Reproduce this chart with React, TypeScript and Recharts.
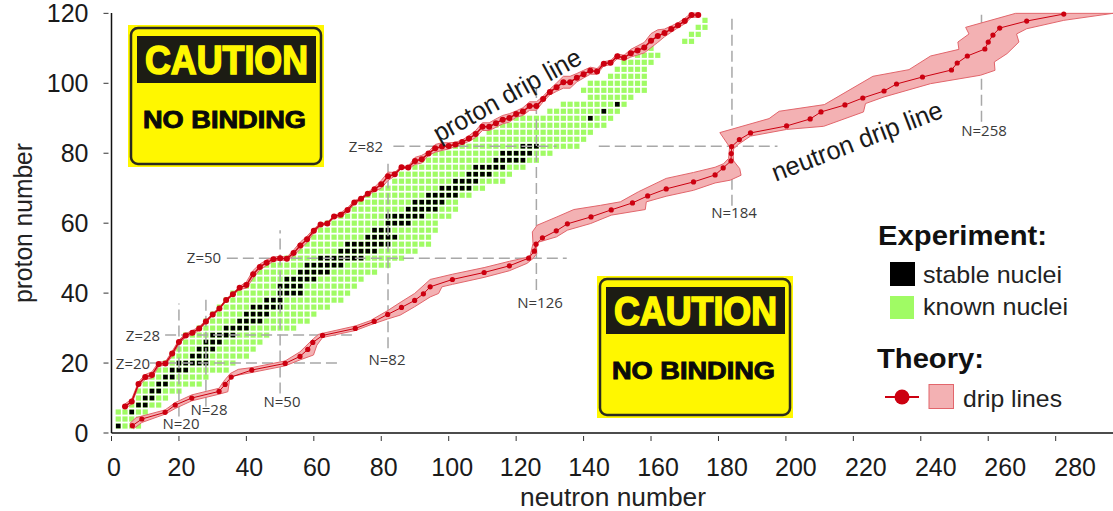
import { ComposedChart, Line, Scatter, XAxis, YAxis, ReferenceLine } from 'recharts';

const FONT = '"Liberation Sans", Arial, sans-serif';
const LABEL_FONT = '"Open Sans", sans-serif';

// x ticks and the small nudge the hand-placed labels have in the original
const xTicks = [0, 20, 40, 60, 80, 100, 120, 140, 160, 180, 200, 220, 240, 260, 280];
const xLabelNudge = [2.5, 2.5, 3, 3, 2.5, 3.5, 4.5, 5.5, 7, 8.5, 10, 12.5, 15, 17, 19.5];
const yTicks = [0, 20, 40, 60, 80, 100, 120];

// known nuclei: one row per even proton number
const knownZ = [2, 4, 6, 8, 10, 12, 14, 16, 18, 20, 22, 24, 26, 28, 30, 32, 34, 36, 38, 40, 42, 44, 46, 48, 50, 52, 54, 56, 58, 60, 62, 64, 66, 68, 70, 72, 74, 76, 78, 80, 82, 84, 86, 88, 90, 92, 94, 96, 98, 100, 102, 104, 106, 108, 110, 112, 114, 116, 118];
const knownNMin = [2, 2, 2, 6, 8, 8, 10, 12, 14, 16, 18, 20, 22, 22, 26, 28, 30, 32, 34, 36, 40, 42, 44, 46, 52, 56, 58, 60, 62, 64, 68, 72, 74, 76, 80, 84, 86, 90, 92, 96, 100, 108, 112, 114, 120, 130, 134, 142, 140, 142, 148, 150, 152, 156, 160, 170, 172, 174, 176];
const knownNMax = [8, 8, 10, 14, 16, 20, 26, 28, 34, 36, 40, 42, 44, 46, 54, 58, 60, 64, 68, 70, 72, 74, 78, 82, 86, 90, 94, 94, 96, 96, 100, 102, 102, 106, 110, 116, 118, 122, 126, 130, 138, 140, 142, 146, 148, 150, 152, 154, 158, 158, 158, 158, 160, 162, 160, 172, 174, 176, 176];

// stable nuclei
const stableZ = [2, 6, 8, 10, 12, 14, 16, 18, 20, 22, 24, 26, 28, 30, 32, 34, 36, 38, 40, 42, 44, 46, 48, 50, 52, 54, 56, 58, 60, 62, 64, 66, 68, 70, 72, 74, 76, 78, 80, 82, 90, 92, 94];
const stableNMin = [2, 6, 8, 10, 12, 14, 16, 18, 20, 24, 26, 28, 30, 34, 38, 40, 42, 46, 50, 50, 52, 56, 58, 62, 68, 70, 76, 78, 82, 82, 88, 90, 94, 98, 102, 106, 108, 114, 116, 122, 142, 146, 150];
const stableNMax = [2, 6, 10, 12, 14, 16, 18, 22, 28, 28, 30, 32, 36, 40, 44, 46, 50, 50, 56, 56, 60, 64, 68, 74, 78, 82, 84, 82, 88, 92, 96, 98, 102, 106, 108, 112, 116, 122, 124, 126, 142, 146, 150];

// proton drip line
const protonN = [4, 6, 8, 10, 12, 14, 16, 18, 20, 22, 24, 26, 28, 30, 32, 34, 36, 38, 40, 42, 44, 46, 48, 50, 52, 54, 56, 58, 60, 62, 64, 66, 68, 70, 72, 74, 76, 78, 80, 82, 84, 86, 88, 90, 92, 94, 96, 98, 100, 102, 104, 106, 108, 110, 112, 114, 116, 118, 120, 122, 124, 126, 128, 130, 132, 134, 136, 138, 140, 142, 144, 146, 148, 150, 152, 154, 156, 158, 160, 162, 164, 166, 168, 170, 172, 174];
const protonZ = [7.6, 9, 14, 16, 16.6, 19.7, 19.9, 22.7, 26, 27.9, 28.7, 29.9, 31.9, 33.9, 35.6, 38, 39.7, 41.5, 42.3, 45.4, 47.5, 48.7, 49.7, 50, 49.8, 51.5, 53.6, 55.4, 57.8, 59.6, 59.9, 61.9, 62.4, 63.8, 65.9, 67, 68.4, 69.7, 71.1, 73.4, 74, 76, 75.9, 77.8, 78.3, 79.9, 81.4, 81.9, 82.1, 82.5, 83.2, 84.2, 85.5, 87.6, 87.6, 88.6, 89.6, 90.1, 91.2, 91.9, 93.5, 93.5, 95.5, 97.5, 98.9, 100.3, 100.3, 101.6, 102.6, 103.6, 103.4, 105.6, 105.9, 107.7, 107.3, 108.6, 109.4, 110.2, 112.2, 113.5, 114.4, 115.5, 116.6, 117.8, 119.5, 119.5];
const protonSpread = [0.7, 0.7, 0.6, 0.7, 0.9, 0.6, 0.5, 0.7, 0.6, 0.5, 0.6, 0.5, 0.4, 0.3, 0.3, 0.3, 0.3, 0.4, 0.9, 1.1, 0.8, 0.8, 0.6, 0.5, 0.5, 0.8, 1, 0.9, 0.6, 0.3, 0.3, 0.3, 0.6, 0.6, 0.5, 0.3, 0.4, 0.6, 1.1, 1.2, 0.5, 0.3, 0.4, 1, 1.1, 0.5, 1.1, 1.1, 0.9, 0.6, 0.6, 0.8, 1, 1.1, 1.1, 1.2, 1.2, 1.2, 0.9, 1.1, 1.2, 1.2, 0.8, 0.8, 1.2, 1.7, 1.7, 1.2, 1.1, 1, 0.8, 0.6, 0.6, 0.7, 0.7, 1.1, 1.3, 1.5, 2, 1.8, 1.1, 0.9, 0.7, 0.8, 0.6, 0.6];

// neutron drip line
const neutronN = [6.2, 9, 15.9, 18.9, 23.8, 31.9, 33.7, 35.5, 41.6, 51.5, 55.9, 58.2, 59.7, 62.6, 72.3, 77.9, 81.9, 86, 89.9, 92.5, 94.5, 101.1, 110.5, 118, 123.7, 125.4, 125.9, 127.8, 131.9, 135.2, 142.2, 148.2, 154.5, 159, 164.5, 172.6, 179, 181.4, 183.7, 183.8, 183.9, 186.2, 189.5, 200.2, 207.2, 210.4, 217.5, 222.8, 229.1, 232.8, 240.5, 249.1, 250.8, 253.8, 259, 260, 261.4, 263.4, 271.4, 282.4];
const neutronZ = [2.1, 4, 5.9, 8, 10, 11.9, 13.9, 16, 18, 19.9, 21.9, 23.9, 25.9, 27.9, 29.9, 31.9, 33.9, 35.9, 37.9, 39.8, 41.8, 43.9, 45.9, 47.8, 50, 52, 54, 55.8, 57.8, 59.8, 61.8, 63.8, 65.8, 67.8, 69.8, 71.8, 73.8, 75.8, 77.8, 79.9, 81.9, 83.9, 85.8, 87.8, 89.8, 91.8, 93.8, 95.8, 97.8, 99.8, 101.8, 103.8, 105.8, 107.8, 109.8, 111.8, 113.8, 115.8, 117.8, 119.8];

// outline of the neutron band, upper edge then lower edge
const neutronUpperN = [5.5, 7.3, 15.9, 18.9, 23.8, 31.9, 33.2, 35.2, 37.6, 41.6, 51.5, 55.9, 59.9, 61.4, 62.6, 72.3, 76.7, 81.9, 85.9, 89.9, 94.5, 101.1, 110.5, 118, 123.2, 124.2, 125, 124.8, 126.2, 132.1, 137.1, 145, 150.9, 156.3, 164.5, 172.6, 179, 181.5, 183, 183.3, 180.4, 195, 198, 211.4, 225.8, 236.5, 242.9, 251.3, 251, 254.3, 253.3, 268.1, 297];
const neutronUpperZ = [2.8, 4.4, 6.6, 8.7, 10.9, 12.8, 14.7, 17, 18.2, 18.7, 20.6, 23.2, 27, 28.2, 28.5, 30.6, 32.1, 35, 37.5, 39.9, 43.9, 45.4, 47.3, 49.1, 50.2, 50.9, 54.2, 57.5, 59.4, 61.8, 63.9, 65.1, 66.1, 69, 72.8, 74.5, 76, 77, 78.5, 81.8, 85.9, 89.9, 92, 93.9, 102, 103.9, 107.8, 109.7, 111.8, 114.1, 116, 120, 120];
const neutronLowerN = [6.5, 9, 15.9, 18.9, 23.8, 31.9, 34.5, 35, 36.2, 41.6, 51.5, 55.9, 59.9, 60.9, 62.6, 72.3, 76.7, 81.9, 85.6, 89.9, 94.5, 97, 98, 101.1, 110.5, 118, 123.2, 125, 126.1, 126, 126.4, 132, 135.2, 142.1, 148.2, 158.3, 158.6, 164.5, 172.6, 179, 183.5, 186.7, 186.3, 184.5, 184.3, 184.5, 186, 189.5, 200.2, 211.2, 223, 223.6, 229.1, 242.9, 257.7, 262, 261.8, 265.6, 269.1, 268.4, 271.4, 282.4, 297];
const neutronLowerZ = [1.2, 3, 5.4, 7, 9.2, 11.1, 11.8, 15.1, 16.3, 17.3, 19.2, 20.9, 22.3, 25.1, 27.3, 29.3, 30.9, 32.6, 33.7, 36.1, 38.9, 39.9, 41.8, 42.5, 44.5, 46.4, 48.5, 49.9, 51.3, 53.7, 54.5, 56.1, 58, 59.9, 62.3, 63.9, 66.1, 67.7, 69.4, 71.5, 72.3, 73.7, 75.6, 77.8, 79.9, 81.3, 82.6, 84.9, 86.8, 87.7, 91.8, 94.2, 96.1, 99.9, 102.3, 103.7, 106.1, 108.5, 111.8, 114.1, 115.6, 118, 120];

// dashed magic number guides: [n1, z1, n2, z2]
const guides = [
  [11.4, 20, 67.3, 20],
  [15.9, 28, 71.3, 28],
  [34.2, 50, 135, 50],
  [83.6, 82, 132, 82],
  [144.5, 82, 197.5, 82],
  [20, 4.7, 20, 37],
  [28, 7.5, 28, 38.2],
  [50, 11.3, 50, 58],
  [82, 24.2, 82, 77],
  [126, 40.9, 126, 99],
  [184, 65, 184, 119],
  [258, 89, 258, 120],
];

const magicLabels = [
  { text: 'Z=82', x: 366, y: 146 },
  { text: 'Z=50', x: 204, y: 257 },
  { text: 'Z=28', x: 143, y: 335 },
  { text: 'Z=20', x: 133, y: 363 },
  { text: 'N=20', x: 181, y: 423 },
  { text: 'N=28', x: 209, y: 409 },
  { text: 'N=50', x: 282, y: 401 },
  { text: 'N=82', x: 387, y: 359 },
  { text: 'N=126', x: 540, y: 302 },
  { text: 'N=184', x: 734, y: 212 },
  { text: 'N=258', x: 984, y: 130 },
];

const knownCells = knownZ.flatMap((z, i) => {
  const row = [];
  for (let n = knownNMin[i]; n <= knownNMax[i]; n += 2) row.push({ n, z });
  return row;
});
const stableCells = stableZ.flatMap((z, i) => {
  const row = [];
  for (let n = stableNMin[i]; n <= stableNMax[i]; n += 2) row.push({ n, z });
  return row;
});

const protonLine = protonN.map((n, i) => ({ n, z: protonZ[i] }));
const neutronLine = neutronN.map((n, i) => ({ n, z: neutronZ[i] }));
const protonBand = [
  ...protonN.map((n, i) => ({ n, z: protonZ[i] + protonSpread[i] })),
  ...protonN.map((n, i) => ({ n, z: protonZ[i] - protonSpread[i] })).reverse(),
];
const neutronBand = [
  ...neutronUpperN.map((n, i) => ({ n, z: neutronUpperZ[i] })),
  ...neutronLowerN.map((n, i) => ({ n, z: neutronLowerZ[i] })).reverse(),
];

const RED = '#cc0010';
const BAND_FILL = '#f3b1b3';
const BAND_STROKE = '#e2666c';
const GREEN = '#a0fb64';

const square = (fill: string, size: number) => (p: any) => (
  <rect x={p.cx - size / 2} y={p.cy - size / 2} width={size} height={size} fill={fill} />
);

const noPoint = () => <g />;

const bandPolygon = (p: any) => (
  <polygon
    points={p.points.map((q: any) => `${q.x},${q.y}`).join(' ')}
    fill={BAND_FILL}
    stroke={BAND_STROKE}
    strokeWidth={1}
  />
);

const BottomTick = ({ x, y, payload, index }: any) => (
  <g>
    <line x1={x} x2={x} y1={y} y2={y - 5} stroke="#333" strokeWidth={1} />
    <text x={x + xLabelNudge[index]} y={y + 26} textAnchor="middle" dominantBaseline="central" fontSize={25} fontFamily={FONT} fill="#1a1a1a">
      {payload.value}
    </text>
  </g>
);

const TopTick = ({ x, y }: any) => <line x1={x} x2={x} y1={y} y2={y + 5} stroke="#333" strokeWidth={1} />;

const LeftTick = ({ x, y, payload }: any) => (
  <g>
    <line x1={x} x2={x + 5} y1={y} y2={y} stroke="#333" strokeWidth={1} />
    <text x={x - 15} y={y} textAnchor="end" dominantBaseline="central" fontSize={25} fontFamily={FONT} fill="#1a1a1a">
      {payload.value}
    </text>
  </g>
);

const RightTick = ({ x, y }: any) => <line x1={x - 4} x2={x} y1={y} y2={y} stroke="#333" strokeWidth={1} />;

function CautionSign({ x, y }: { x: number; y: number }) {
  return (
    <g transform={`translate(${x},${y})`}>
      <rect width={196} height={142} fill="#fff700" />
      <rect x={3} y={3} width={190} height={136} rx={7} fill="#fff700" stroke="#2a2a20" strokeWidth={2.5} />
      <rect x={9} y={11} width={179} height={47} fill="#1c1c14" />
      <text x={17} y={49} fontSize={40} fontWeight="bold" fontFamily={FONT} fill="#fff700" stroke="#fff700" strokeWidth={1.6} textLength={163} lengthAdjust="spacingAndGlyphs">
        CAUTION
      </text>
      <text x={15} y={103} fontSize={23} fontWeight="bold" fontFamily={FONT} fill="#0a0a0a" stroke="#0a0a0a" strokeWidth={0.9} textLength={163} lengthAdjust="spacingAndGlyphs">
        NO BINDING
      </text>
    </g>
  );
}

export default function App() {
  return (
    <div style={{ position: 'absolute', left: 0, top: 0, width: 1113, height: 511, background: '#fff' }}>
      <ComposedChart width={1113} height={511} margin={{ top: 13, right: 0, bottom: 0, left: 0 }}>
        <XAxis
          type="number"
          dataKey="n"
          domain={[0, 297]}
          ticks={xTicks}
          height={78}
          interval={0}
          tickLine={false}
          tick={BottomTick}
          axisLine={{ stroke: '#111', strokeWidth: 1.5 }}
        />
        <XAxis
          xAxisId="top"
          orientation="top"
          type="number"
          dataKey="n"
          domain={[0, 297]}
          ticks={xTicks}
          height={0}
          interval={0}
          tickLine={false}
          tick={TopTick}
          axisLine={{ stroke: '#444', strokeWidth: 2 }}
        />
        <YAxis
          type="number"
          dataKey="z"
          domain={[0, 120]}
          ticks={yTicks}
          width={111.5}
          interval={0}
          tickLine={false}
          tick={LeftTick}
          axisLine={{ stroke: '#111', strokeWidth: 1.5 }}
        />
        <YAxis
          yAxisId="right"
          orientation="right"
          type="number"
          dataKey="z"
          domain={[0, 120]}
          ticks={yTicks}
          width={0}
          interval={0}
          tickLine={false}
          tick={RightTick}
          axisLine={false}
        />

        <Scatter data={knownCells} shape={square(GREEN, 5.2)} isAnimationActive={false} zIndex={100} />
        <Scatter data={stableCells} shape={square('#000', 4.6)} isAnimationActive={false} zIndex={101} />

        {guides.map((g, i) => (
          <ReferenceLine
            key={i}
            segment={[{ x: g[0], y: g[1] }, { x: g[2], y: g[3] }]}
            stroke="#a8a8a8"
            strokeWidth={1.5}
            strokeDasharray="11 5"
            zIndex={102}
          />
        ))}

        <Scatter data={protonBand} shape={noPoint} line={bandPolygon} isAnimationActive={false} zIndex={103} />
        <Scatter data={neutronBand} shape={noPoint} line={bandPolygon} isAnimationActive={false} zIndex={103} />
        <Line
          data={protonLine}
          dataKey="z"
          stroke={RED}
          strokeWidth={1.5}
          dot={{ r: 3, fill: RED, stroke: RED, strokeWidth: 0 }}
          isAnimationActive={false}
          zIndex={104}
        />
        <Line
          data={neutronLine}
          dataKey="z"
          stroke={RED}
          strokeWidth={1}
          dot={{ r: 2.6, fill: RED, stroke: RED, strokeWidth: 0 }}
          isAnimationActive={false}
          zIndex={104}
        />
      </ComposedChart>

      <svg width={1113} height={511} style={{ position: 'absolute', left: 0, top: 0, pointerEvents: 'none' }}>
        <CautionSign x={128} y={25} />
        <CautionSign x={597} y={276} />

        {magicLabels.map((l) => (
          <text key={l.text} x={l.x} y={l.y} textAnchor="middle" dominantBaseline="central" fontSize={15} fontFamily={LABEL_FONT} fill="#3a3a3a">
            {l.text}
          </text>
        ))}

        <text x={507} y={95} textAnchor="middle" dominantBaseline="central" fontSize={26} fontFamily={FONT} fill="#1a1a1a" textLength={165} lengthAdjust="spacingAndGlyphs" transform="rotate(-29 507 95)">
          proton drip line
        </text>
        <text x={857} y={141} textAnchor="middle" dominantBaseline="central" fontSize={26} fontFamily={FONT} fill="#1a1a1a" textLength={181} lengthAdjust="spacingAndGlyphs" transform="rotate(-21 857 141)">
          neutron drip line
        </text>

        <text x={613} y={497} textAnchor="middle" dominantBaseline="central" fontSize={25} fontFamily={FONT} fill="#222" textLength={186} lengthAdjust="spacingAndGlyphs">
          neutron number
        </text>
        <text x={23} y={223} textAnchor="middle" dominantBaseline="central" fontSize={25} fontFamily={FONT} fill="#222" textLength={160} lengthAdjust="spacingAndGlyphs" transform="rotate(-90 23 223)">
          proton number
        </text>

        <text x={878} y={245} fontSize={28} fontWeight="bold" fontFamily={FONT} fill="#111" textLength={169} lengthAdjust="spacingAndGlyphs">Experiment:</text>
        <rect x={890} y={262} width={25} height={24} fill="#000" />
        <text x={923} y={283} fontSize={24} fontFamily={FONT} fill="#222" textLength={139} lengthAdjust="spacingAndGlyphs">stable nuclei</text>
        <rect x={890} y={296} width={24} height={23} fill={GREEN} />
        <text x={923} y={315} fontSize={24} fontFamily={FONT} fill="#222" textLength={145} lengthAdjust="spacingAndGlyphs">known nuclei</text>
        <text x={877} y={368} fontSize={28} fontWeight="bold" fontFamily={FONT} fill="#111" textLength={107} lengthAdjust="spacingAndGlyphs">Theory:</text>
        <line x1={885} x2={919} y1={397} y2={397} stroke={RED} strokeWidth={2} />
        <circle cx={902} cy={397} r={7.5} fill={RED} />
        <rect x={929} y={384.5} width={24.5} height={24} fill={BAND_FILL} stroke={BAND_STROKE} strokeWidth={1} />
        <text x={963} y={407} fontSize={24} fontFamily={FONT} fill="#222" textLength={99} lengthAdjust="spacingAndGlyphs">drip lines</text>
      </svg>
    </div>
  );
}
